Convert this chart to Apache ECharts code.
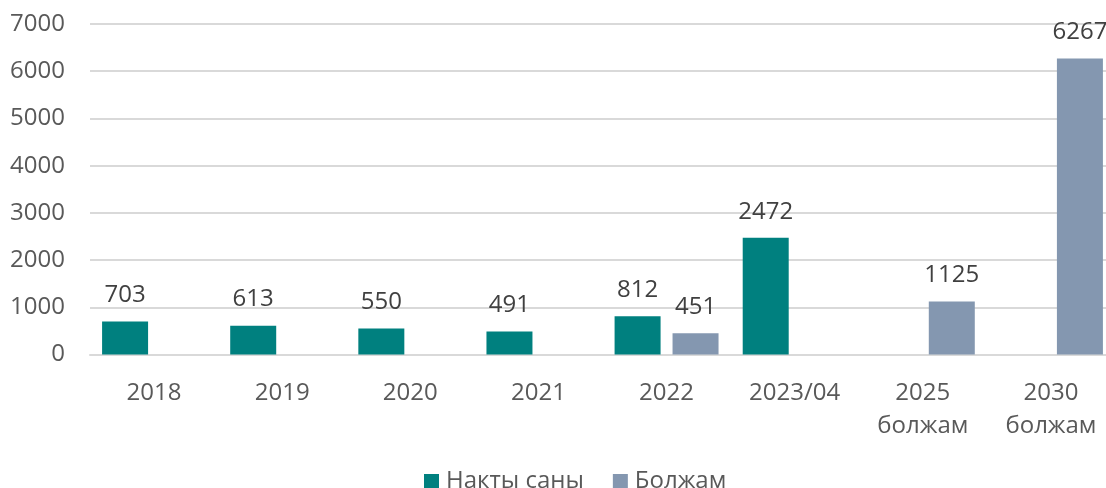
<!DOCTYPE html>
<html><head><meta charset="utf-8">
<script src="https://cdn.jsdelivr.net/npm/echarts@6/dist/echarts.min.js"></script>
<style>html,body{margin:0;padding:0;background:#fff;overflow:hidden}#c{width:1115px;height:488px}</style>
</head><body><div id="c"></div>
<script>
const categories = ['2018','2019','2020','2021','2022','2023/04','2025\nболжам','2030\nболжам'];
const actualName = 'Накты саны';
const forecastName = 'Болжам';
const actualValues = [703, 613, 550, 491, 812, 2472, null, null];
const forecastValues = [null, null, null, null, 451, null, 1125, 6267];
const yTicks = [0, 1000, 2000, 3000, 4000, 5000, 6000, 7000];

const chart = echarts.init(document.getElementById('c'), null, {renderer:'canvas'});
const font = '"Open Sans", sans-serif';
const labelStyle = {show:true, position:'top', distance:14, color:'#404040', fontSize:24, fontFamily:font};
chart.setOption({
  animation:false,
  textStyle:{fontFamily:font},
  grid:{left:90, right:0, top:24, height:330.6, containLabel:false},
  legend:{bottom:-10, left:419, itemWidth:15, itemHeight:14, itemGap:29, icon:'rect',
    textStyle:{color:'#595959', fontSize:24, fontFamily:font, padding:[0,0,0,2]},
    data:[actualName, forecastName]},
  xAxis:{type:'category', data:categories,
    axisLine:{show:true, lineStyle:{color:'#d9d9d9', width:2}},
    axisTick:{show:false},
    axisLabel:{color:'#595959', fontSize:24, fontFamily:font, margin:22, lineHeight:33, interval:0}},
  yAxis:{type:'value', min:yTicks[0], max:yTicks[yTicks.length-1], interval:1000,
    axisLine:{show:false}, axisTick:{show:false},
    splitLine:{lineStyle:{color:'#d9d9d9', width:2}},
    axisLabel:{color:'#595959', fontSize:24, fontFamily:font, margin:25, formatter:v => String(v)}},
  series:[
    {name:actualName, type:'bar', data:actualValues, barWidth:46, barGap:'26%',
      itemStyle:{color:'#00807f'}, label:labelStyle},
    {name:forecastName, type:'bar', data:forecastValues, barWidth:46,
      itemStyle:{color:'#8497b0'}, label:labelStyle}
  ]
});
</script></body></html>
